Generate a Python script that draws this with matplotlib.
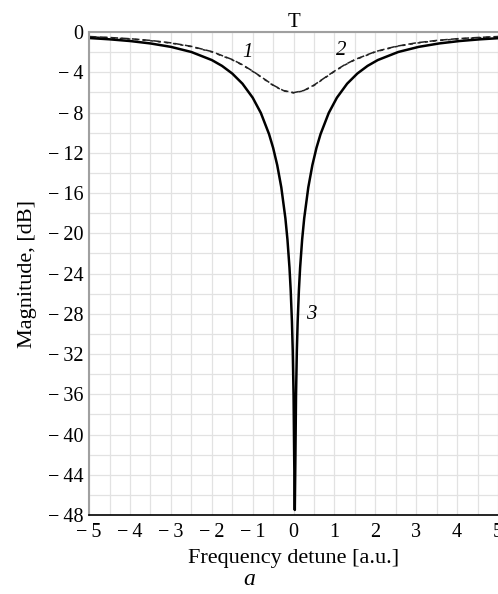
import matplotlib
matplotlib.use("Agg")
import matplotlib.pyplot as plt
from matplotlib.ticker import MultipleLocator, FuncFormatter

plt.rcParams['font.family'] = ['Liberation Serif', 'DejaVu Serif']

# curve 3 (solid, notch)
x3 = [-5.0, -4.5, -4.0, -3.5, -3.0, -2.5, -2.0, -1.75, -1.5, -1.25, -1.0, -0.8,
      -0.6, -0.5, -0.4, -0.3, -0.2, -0.15, -0.1, -0.07, -0.04, -0.02, 0.0, 0.015,
      0.03, 0.045, 0.06, 0.08, 0.10, 0.13, 0.16, 0.21, 0.26, 0.36, 0.46, 0.56,
      0.66, 0.86, 1.06, 1.31, 1.56, 1.81, 2.06, 2.56, 3.06, 3.56, 4.06, 4.56, 5.0]
y3 = [-0.59, -0.72, -0.89, -1.13, -1.47, -1.98, -2.78, -3.36, -4.12, -5.13, -6.52, -8.04,
      -10.14, -11.51, -13.22, -15.44, -18.51, -20.61, -23.42, -25.69, -28.79, -31.7, -36.1, -42.2,
      -47.5, -42.2, -36.1, -31.7, -28.79, -25.69, -23.42, -20.61, -18.51, -15.44, -13.22, -11.51,
      -10.14, -8.04, -6.52, -5.13, -4.12, -3.36, -2.78, -1.98, -1.47, -1.13, -0.89, -0.72, -0.61]

# curves 1 and 2 (dashed)
x12 = [-5.0, -4.5, -4.0, -3.5, -3.0, -2.5, -2.0, -1.5, -1.25, -1.0, -0.75, -0.5, -0.25, 0.0,
       0.25, 0.5, 0.75, 1.0, 1.25, 1.5, 2.0, 2.5, 3.0, 3.5, 4.0, 4.5, 5.0]
y1 = [-0.44, -0.54, -0.66, -0.83, -1.07, -1.42, -1.94, -2.73, -3.25, -3.88, -4.57, -5.27, -5.81, -6.02,
      -5.81, -5.27, -4.57, -3.88, -3.25, -2.73, -1.94, -1.42, -1.07, -0.83, -0.66, -0.54, -0.44]
y2 = [-0.47, -0.57, -0.69, -0.86, -1.10, -1.45, -1.97, -2.76, -3.28, -3.91, -4.60, -5.30, -5.84, -6.04,
      -5.84, -5.30, -4.60, -3.91, -3.28, -2.76, -1.97, -1.45, -1.10, -0.86, -0.69, -0.57, -0.47]


def fmt(v, pos):
    v = int(round(v))
    return '\u2212\u2009' + str(-v) if v < 0 else str(v)


fig = plt.figure(figsize=(4.98, 5.94), dpi=100)
ax = fig.add_axes([0.179, 0.133, 0.821, 0.813])

ax.plot(x12, y1, color='#222222', lw=1.1, dashes=(5, 2))
ax.plot(x12, y2, color='#222222', lw=1.1, dashes=(2, 3))
ax.plot(x3, y3, color='black', lw=1.8)

ax.set_xlim(-5, 5)
ax.set_ylim(-48, 0)
ax.xaxis.set_major_locator(MultipleLocator(1))
ax.xaxis.set_minor_locator(MultipleLocator(0.5))
ax.yaxis.set_major_locator(MultipleLocator(4))
ax.yaxis.set_minor_locator(MultipleLocator(2))
ax.xaxis.set_major_formatter(FuncFormatter(fmt))
ax.yaxis.set_major_formatter(FuncFormatter(fmt))
ax.grid(True, which='both', color='#e2e2e2', lw=0.9)
ax.set_axisbelow(True)
ax.tick_params(which='both', length=0, labelsize=14.5)
ax.tick_params(axis='x', pad=6)
ax.tick_params(axis='y', pad=4)

for s in ['left', 'top']:
    ax.spines[s].set_color('#a0a0a0')
    ax.spines[s].set_linewidth(1.5)
ax.spines['bottom'].set_color('black')
ax.spines['bottom'].set_linewidth(1.2)
ax.spines['right'].set_visible(False)

ax.set_title('T', fontsize=15, pad=3)
ax.set_xlabel('Frequency detune [a.u.]', fontsize=16, labelpad=5)
ax.set_ylabel('Magnitude, [dB]', fontsize=16, labelpad=8)

ax.text(-1.13, -2.0, '1', fontsize=15, style='italic', ha='center', va='center')
ax.text(1.17, -1.8, '2', fontsize=15, style='italic', ha='center', va='center')
ax.text(0.44, -28.1, '3', fontsize=15, style='italic', ha='center', va='center')
fig.text(0.5, 0.024, 'a', fontsize=17, style='italic', ha='center', va='center')

fig.savefig('out.png', dpi=100)
